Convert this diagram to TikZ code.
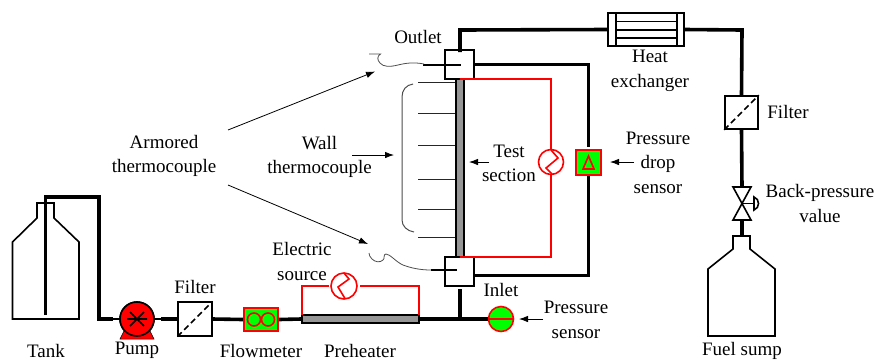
\documentclass[tikz,border=0pt]{standalone}
\usepackage{fontspec}
\setmainfont{Liberation Serif}
\usetikzlibrary{arrows.meta,shapes.geometric}
\definecolor{grn}{RGB}{0,255,0}
\definecolor{wallgray}{RGB}{150,150,150}
\tikzset{
 pipe/.style={line width=3.6pt,black},
 thinpipe/.style={line width=1.6pt,black},
 boxn/.style={draw=black,line width=1.6pt,fill=white,inner sep=0,minimum width=#1,minimum height=#1},
 wire/.style={red,line width=1.6pt},
 lab/.style={align=center,inner sep=0,font=\fontsize{19}{24.5}\selectfont},
 pointer/.style={line width=.8pt,-{Latex[length=9pt,width=6.5pt]}},
 tc/.style={line width=1pt,black!85},
 lead/.style={line width=.8pt,black!70},
 vessel/.style={draw=black,line width=1.6pt,fill=white,line join=miter},
 redc/.style={circle,draw=red,line width=1.6pt,inner sep=0,minimum size=#1},
}
\begin{document}
\begin{tikzpicture}[x=1pt,y=-1pt]
\useasboundingbox (0,0) rectangle (877,360);
% vessels
\draw[vessel] (12.5,319) -- (12.5,242) -- (37,218) -- (37,203) -- (54,203) -- (54,218) -- (79,242) -- (79,319) -- cycle;
\draw[vessel] (708,336) -- (708,269) -- (733,249) -- (733,236) -- (750,236) -- (750,249) -- (775,269) -- (775,336) -- cycle;
\coordinate (tubeend) at (45.5,315);
\coordinate (tubetop) at (45.5,197);
\coordinate (tubecorner) at (99,197);
% line junctions
\node[circle,draw=black,fill=red,line width=1.6pt,inner sep=0,minimum size=34pt] (pump) at (137,319) {};
\node[boxn=33.5pt] (filterA) at (195,319) {};
\node[draw=red,fill=grn,line width=1.6pt,inner sep=0,minimum width=34pt,minimum height=23pt] (flow) at (261,319.5) {};
\node[draw=black,fill=wallgray,line width=1.6pt,inner sep=0,minimum width=117pt,minimum height=8pt] (pre) at (360.5,319) {};
\coordinate (tee) at (460,319);
\node[boxn=29pt] (inlet) at (459.5,271.5) {};
\node[boxn=29pt] (outlet) at (459.5,64.5) {};
\node[draw=black,fill=white,line width=1.6pt,inner sep=0,minimum width=76pt,minimum height=33pt] (hx) at (646,29.5) {};
\node[boxn=33pt] (filterB) at (741.5,112.5) {};
\node[draw=red,fill=grn,line width=1.6pt,inner sep=0,minimum size=25pt] (dp) at (588.5,162.5) {};
\node[redc=25pt,fill=grn] (ps) at (501,319) {};
\node[redc=26pt,fill=white] (heatA) at (344,286) {};
\node[redc=25pt,fill=white] (heatB) at (551,162) {};
\node[draw=black,fill=wallgray,line width=1.2pt,inner sep=0,minimum width=8pt,minimum height=178pt] (wall) at (460,168) {};
% pipes
\draw[pipe,line join=miter] (tubeend) -- (tubetop) -- (tubecorner) |- (113,319);
\draw[thinpipe] (113,319) -- (pump.west);
\draw[thinpipe] (pump.east) -- (filterA.west);
\draw[pipe] (161,319) -- (filterA.west);
\draw[pipe] (filterA.east) -- (flow.west);
\draw[pipe] (flow.east) -- (pre.west);
\draw[pipe] (pre.east) -- (ps.west);
\draw[pipe] (tee) -- (460,289);
\draw[pipe,line join=miter] (460,52) -- (460,30) -- (hx.west);
\draw[pipe,line join=miter] (hx.east) -- (742,30) -- (filterB.north);
\draw[pipe] (filterB.south) -- (742,188);
\draw[pipe] (742,220) -- (742,236);
\draw[pipe,line join=miter] (outlet.east) -- (588.5,64.5) -- (588.5,147);
\draw[pipe,line join=miter] (dp.south) -- (588.5,275.5) -- (474,275.5);
% electric wires
\draw[wire] (302,315) -- (302,286) -- (329,286);
\draw[wire] (360,286) -- (419,286) -- (419,315);
\draw[wire] (460,79) -- (551,79) -- (heatB.north);
\draw[wire] (heatB.south) -- (551,257) -- (460,257);
\draw[wire] (ps.west) -- (ps.east);
% heater zigzags
\draw[wire] (344,273) -- (349,279) -- (338,287) -- (345,298.5);
\draw[wire] (551,150) -- (558,158) -- (546,168) -- (552,174);
% pump details
\fill[red,draw=black,line width=.5pt] (124,331) -- (120,339) -- (154,339) -- (150,331) -- cycle;
\node[circle,draw=black,fill=red,line width=1.6pt,inner sep=0,minimum size=34pt] at (pump.center) {};
\draw[line width=1.6pt] (127,319) -- (147,319) (130,312) -- (144,326) (130,326) -- (144,312);
% filter diagonals
\draw[line width=1.6pt,dash pattern=on 6pt off 3.5pt] (filterA.south west) -- (filterA.north east);
\draw[line width=1.6pt,dash pattern=on 6pt off 3.5pt] (filterB.south west) -- (filterB.north east);
% flowmeter
\node[redc=13pt,fill=grn] (fa) at (254,319.5) {};
\node[redc=13pt,fill=grn] (fb) at (268,319.5) {};
% dp triangle
\draw[red,line width=1.6pt] (588.5,156) -- (594,169) -- (583,169) -- cycle;
% heat exchanger
\draw[line width=1.2pt] (616,13) -- (616,46) (677,13) -- (677,46);
\draw[line width=1.2pt] (616,21.5) -- (677,21.5) (616,38) -- (677,38);
\draw[line width=2.4pt] (616,30) -- (677,30);
% valve
\draw[vessel] (733,187) -- (751,187) -- (733,220) -- (751,220) -- cycle;
\draw[line width=1.6pt] (742,203.5) -- (754,203.5);
\draw[line width=1.6pt,fill=white] (754,197) .. controls (760,199) and (760,208) .. (754,210) -- cycle;
% thermocouples
\foreach \yy in {82,113,145,179,209,237}{\draw[tc] (418,\yy) -- (wall.west |- 0,\yy);}
\draw[lead,line width=1pt] (413,84) .. controls (406,85) and (402,90) .. (402,97) -- (402,220) .. controls (402,226) and (407,231) .. (414,232);
\draw[line width=1.3pt] (423,65) -- (461,65);
\draw[line width=1.3pt] (431,270) -- (457,270);
\draw[lead] (424,64) .. controls (414,62) and (406,63) .. (398,65) .. controls (390,67) and (383,67) .. (380,63) .. controls (377,60) and (377,56) .. (380.5,54) -- (369,54);
\draw[lead] (431,270) .. controls (420,270) and (411,268) .. (403,265) .. controls (396,262) and (390,254) .. (386,254) .. controls (383,254) and (385,259) .. (383,260) .. controls (380,263) and (375,262) .. (372,259) .. controls (370,257) and (369,255) .. (369,253);
% labels
\node[lab] (lTank) at (46,350.5) {Tank};
\node[lab] (lPump) at (137,350.5) {Pump};
\node[lab] (lFilterA) at (195,287) {Filter};
\node[lab] (lFlow) at (261,350.5) {Flowmeter};
\node[lab] (lPre) at (360,350.5) {Preheater};
\node[lab] (lEl) at (302,261.5) {Electric\\source};
\node[lab] (lIn) at (501,290) {Inlet};
\node[lab] (lPs) at (576,320) {Pressure\\sensor};
\node[lab] (lOut) at (418,37) {Outlet};
\node[lab] (lAT) at (164,156) {Armored\\thermocouple};
\node[lab] (lWT) at (319.5,157) {Wall\\thermocouple};
\node[lab] (lTS) at (509,163.5) {Test\\section};
\node[lab] (lDP) at (658,162.5) {Pressure\\drop\\sensor};
\node[lab] (lHX) at (650,71) {Heat\\exchanger};
\node[lab] (lFB) at (788,112) {Filter};
\node[lab] (lBP) at (820,203.5) {Back-pressure\\value};
\node[lab] (lFS) at (742,350.5) {Fuel sump};
% pointers
\coordinate (pa1) at (228,130); \coordinate (pa2) at (375,71.5);
\coordinate (pb1) at (228,185); \coordinate (pb2) at (368,244);
\draw[pointer] (pa1) -- (pa2);
\draw[pointer] (pb1) -- (pb2);
\draw[pointer] (352,155) -- (394,155);
\draw[pointer] (489,162) -- (469,162);
\draw[pointer] (634,162) -- (610,162);
\draw[pointer] (543,319) -- (519,319);
\end{tikzpicture}
\end{document}
